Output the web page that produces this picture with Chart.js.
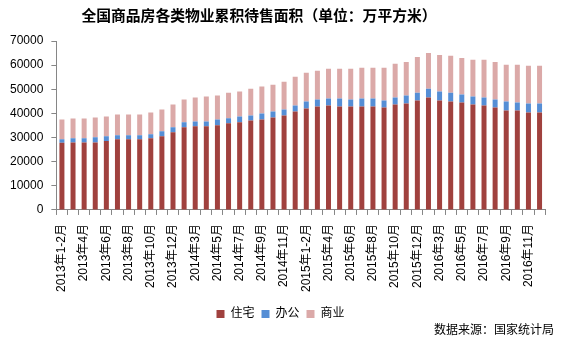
<!DOCTYPE html>
<html>
<head>
<meta charset="utf-8">
<script src="https://cdn.jsdelivr.net/npm/chart.js@4/dist/chart.umd.min.js"></script>
<style>
html,body{margin:0;padding:0;background:#fff;}
#wrap{width:563px;height:345px;position:relative;}
</style>
</head>
<body>
<div id="wrap"><canvas id="c" width="563" height="345"></canvas></div>
<script>
const categories = [
"2013年1-2月","2013年3月","2013年4月","2013年5月","2013年6月","2013年7月","2013年8月","2013年9月","2013年10月","2013年11月","2013年12月",
"2014年1-2月","2014年3月","2014年4月","2014年5月","2014年6月","2014年7月","2014年8月","2014年9月","2014年10月","2014年11月","2014年12月",
"2015年1-2月","2015年3月","2015年4月","2015年5月","2015年6月","2015年7月","2015年8月","2015年9月","2015年10月","2015年11月","2015年12月",
"2016年1-2月","2016年3月","2016年4月","2016年5月","2016年6月","2016年7月","2016年8月","2016年9月","2016年10月","2016年11月","2016年12月"
];
const residential = [27800,28000,28000,28000,28600,29300,29300,29300,29700,30550,32200,
34250,34650,34650,35050,35900,36300,37100,37500,38350,39150,40800,
42050,42850,43300,42850,42850,42850,42850,42450,43700,44100,45350,
46550,45350,44900,44500,43700,43300,42450,41200,41200,40400,40400];
const office = [1500,1700,1700,2100,1950,1650,1650,1650,1650,2050,2050,
2050,2050,2050,2450,2050,2450,2050,2500,2450,2500,2500,
2850,2900,2850,3300,2900,3300,3300,2900,2850,3300,3250,
3700,3700,3700,3300,3300,3250,3300,3700,3300,3700,3700];
const commercial = [8200,8200,8200,8250,8200,8650,8650,8650,9050,9050,9450,
9450,9850,10300,9900,10650,10300,11100,11100,11100,11500,11900,
11950,11900,12350,12350,12750,12750,12750,13550,14000,13950,14800,
14800,15200,15250,15200,15200,15650,15600,15250,15650,15600,15600];
const seriesNames = ["住宅","办公","商业"];
const yTicks = {min:0, max:70000, step:10000};
const titleText = "全国商品房各类物业累积待售面积（单位：万平方米）";
const sourceText = "数据来源：国家统计局";

const FONT = "'Liberation Sans', 'Noto Sans CJK SC', sans-serif";
const AXIS = "#868686";

const textPlugin = {
  id:'customTexts',
  afterDraw(chart){
    const ctx = chart.ctx;
    ctx.save();
    ctx.font = "bold 14.8px 'Noto Sans CJK SC', sans-serif";
    ctx.fillStyle = "#000";
    ctx.textAlign = "center";
    ctx.textBaseline = "middle";
    ctx.fillText(titleText, 259, 15);
    ctx.font = "12px 'Noto Sans CJK SC', sans-serif";
    ctx.textAlign = "right";
    ctx.fillText(sourceText, 554, 329);
    ctx.restore();
  }
};

new Chart(document.getElementById('c'), {
  type:'bar',
  data:{
    labels: categories,
    datasets:[
      {label:seriesNames[0], data:residential, backgroundColor:'#A0413E'},
      {label:seriesNames[1], data:office, backgroundColor:'#558ED5'},
      {label:seriesNames[2], data:commercial, backgroundColor:'#DBA9A8'}
    ]
  },
  options:{
    responsive:false,
    animation:false,
    devicePixelRatio:1,
    datasets:{bar:{categoryPercentage:0.9, barPercentage:0.5}},
    layout:{padding:{top:41, right:4, left:2, bottom:15}},
    plugins:{
      title:{display:false},
      tooltip:{enabled:false},
      legend:{
        position:'bottom',
        labels:{boxWidth:8, boxHeight:8, padding:7, color:'#000', font:{size:12, family:FONT}}
      }
    },
    scales:{
      x:{
        stacked:true,
        grid:{display:true, drawOnChartArea:false, drawTicks:true, tickLength:5, color:AXIS},
        border:{color:AXIS, width:1},
        ticks:{
          autoSkip:false, minRotation:90, maxRotation:90, color:'#000',
          font:{size:12, family:FONT}, padding:9,
          callback:function(v, i){ return i % 2 === 0 ? categories[i] : ''; }
        }
      },
      y:{
        stacked:true, min:yTicks.min, max:yTicks.max,
        grid:{display:true, drawOnChartArea:false, drawTicks:true, tickLength:5, color:AXIS},
        border:{color:AXIS, width:1},
        ticks:{stepSize:yTicks.step, color:'#000', font:{size:12, family:FONT}, padding:8,
          callback:function(v){ return String(v); }}
      }
    }
  },
  plugins:[textPlugin]
});
</script>
</body>
</html>
